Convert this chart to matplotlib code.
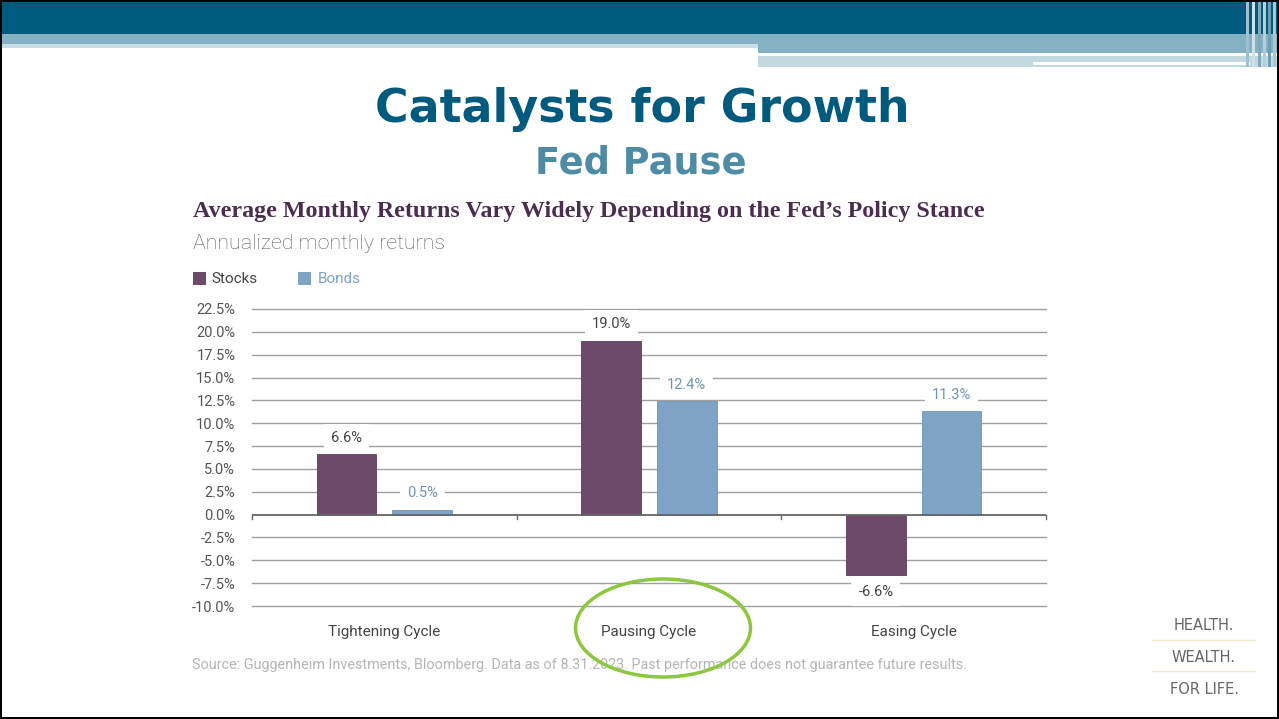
import numpy as np
import matplotlib.pyplot as plt
from matplotlib.patches import Rectangle, Ellipse
from matplotlib.lines import Line2D

# data
categories = ["Tightening Cycle", "Pausing Cycle", "Easing Cycle"]
stocks = [6.6, 19.0, -6.6]
bonds = [0.5, 12.4, 11.3]
y_ticks = [22.5, 20.0, 17.5, 15.0, 12.5, 10.0, 7.5, 5.0, 2.5, 0.0, -2.5, -5.0, -7.5, -10.0]

W, H = 1279, 719
fig = plt.figure(figsize=(W / 100, H / 100), dpi=100)
fig.patch.set_facecolor("white")


def px_rect(x0, y0, x1, y1, color):
    # rectangle in pixel coords measured from the top-left
    fig.patches.append(Rectangle((x0 / W, 1 - y1 / H), (x1 - x0) / W, (y1 - y0) / H,
                                 transform=fig.transFigure, color=color, lw=0, zorder=0))


# slide banner
px_rect(0, 0, W, 34, "#005a7e")
px_rect(0, 34, W, 44, "#84b1c4")
px_rect(0, 44, 758, 48, "#c9dde6")
px_rect(758, 44, W, 53, "#84b1c4")
px_rect(758, 56, W, 67, "#c2d9e0")
px_rect(1033, 62, 1250, 65, "white")
for x, c in [(1246, "#9fc0cf"), (1252, "#cfe0e8"), (1258, "#7fa8ba"), (1263, "#b5cfda"), (1268, "#6f9db2"), (1273, "#a9c7d4")]:
    px_rect(x, 0, x + 3, 67, c)
px_rect(0, 0, W, 2, "black")
px_rect(0, H - 2, W, H, "black")
px_rect(0, 0, 2, H, "black")
px_rect(W - 2, 0, W, H, "black")

# slide titles
fig.text(642 / W, 1 - 110 / H, "Catalysts for Growth", ha="center", va="center",
         fontsize=33, fontweight="bold", color="#005a7e", family="DejaVu Sans")
fig.text(641 / W, 1 - 163 / H, "Fed Pause", ha="center", va="center",
         fontsize=26.5, fontweight="bold", color="#4e8ba5", family="DejaVu Sans")

# chart titles
fig.text(193 / W, 1 - 212 / H, "Average Monthly Returns Vary Widely Depending on the Fed\u2019s Policy Stance",
         ha="left", va="center", fontsize=17.3, fontweight="bold", color="#4b2e4f", family="Liberation Serif")
fig.text(193 / W, 1 - 243 / H, "Annualized monthly returns", ha="left", va="center",
         fontsize=15.4, color="#606060", family="Roboto", fontweight="light")

stock_color = "#6e4a6a"
bond_color = "#7fa3c4"

# legend
px_rect(193, 272, 206, 285, stock_color)
fig.text(211 / W, 1 - 279 / H, "Stocks", ha="left", va="center", fontsize=11,
         color="#444444", family="Roboto")
px_rect(298, 272, 311, 285, bond_color)
fig.text(318 / W, 1 - 279 / H, "Bonds", ha="left", va="center", fontsize=11,
         color="#7fa3c4", family="Roboto")

# chart
ax = fig.add_axes([252 / W, 113 / H, 794 / W, 297 / H])
x = np.arange(len(categories))
w = 0.226
off = 0.143

for t in y_ticks:
    if t != 0:
        ax.axhline(t, color="#a0a0a0", lw=1, zorder=1, clip_on=False)
ax.axhline(0, color="#666666", lw=1.3, zorder=3)
for b in np.arange(len(categories) + 1) - 0.5:
    ax.plot([b, b], [0, -0.5], color="#666666", lw=1, zorder=3, clip_on=False)

bs = ax.bar(x - off, stocks, w, color=stock_color, edgecolor="#5e3c5b", lw=0.6, zorder=2)
bb = ax.bar(x + off, bonds, w, color=bond_color, edgecolor="#6f93b4", lw=0.6, zorder=2)

ax.bar_label(bs, labels=[f"{v:.1f}%" for v in stocks], padding=7, fontsize=10.5,
             color="#444444", zorder=4, family="Roboto",
             bbox=dict(fc="white", ec="none", pad=5))
ax.bar_label(bb, labels=[f"{v:.1f}%" for v in bonds], padding=7, fontsize=10.5,
             color="#6d95b8", zorder=4, family="Roboto",
             bbox=dict(fc="white", ec="none", pad=5))

ax.set_xlim(-0.5, len(categories) - 0.5)
ax.set_ylim(min(y_ticks), max(y_ticks))
ax.set_yticks(y_ticks)
ax.set_yticklabels([f"{t:.1f}%" for t in y_ticks], fontsize=10.5, color="#555555", family="Roboto")
ax.set_xticks(x)
ax.set_xticklabels(categories, fontsize=11, color="#444444", family="Roboto")
ax.tick_params(axis="both", length=0)
ax.tick_params(axis="y", pad=12)
ax.tick_params(axis="x", pad=14)
for s in ax.spines.values():
    s.set_visible(False)
ax.patch.set_alpha(0)

# source line
fig.text(192 / W, 1 - 665 / H,
         "Source: Guggenheim Investments, Bloomberg. Data as of 8.31.2023. Past performance does not guarantee future results.",
         ha="left", va="center", fontsize=10.4, color="#b5b5b5", family="Roboto")

# highlight ellipse
fig.patches.append(Ellipse((663 / W, 1 - 628 / H), 175 / W, 98 / H, transform=fig.transFigure,
                           fill=False, ec="#8dc63f", lw=2.5, zorder=5))

# tagline
for i, txt in enumerate(["HEALTH.", "WEALTH.", "FOR LIFE."]):
    fig.text(1204 / W, 1 - (625 + 32 * i) / H, txt, ha="center", va="center",
             fontsize=10.5, color="#666666", family="DejaVu Sans")
for yy in [640, 671]:
    fig.lines.append(Line2D([1152 / W, 1255 / W], [1 - yy / H, 1 - yy / H],
                            transform=fig.transFigure, color="#f1ead0", lw=1))

fig.savefig("out.png", dpi=100)
